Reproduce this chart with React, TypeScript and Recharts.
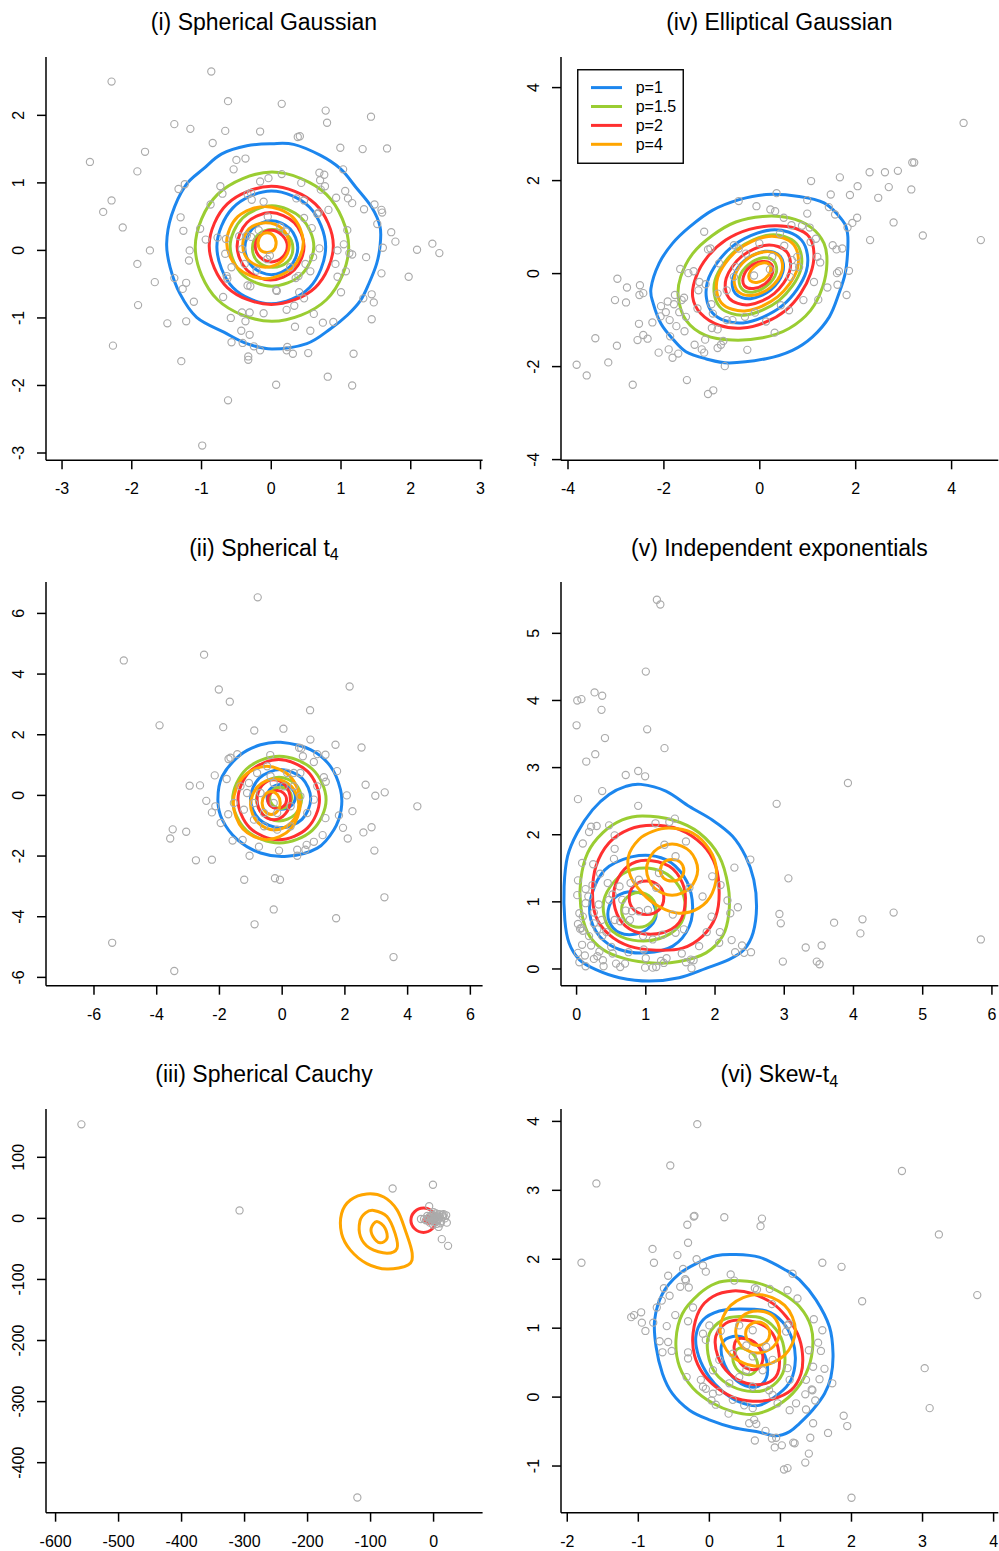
import React from 'react';
import { ComposedChart, Scatter, Line, XAxis, YAxis, Legend } from 'recharts';

type Pt = [number, number];

const FONT = '"Liberation Sans", Arial, Helvetica, sans-serif';
const seriesColors = ['#1C86EE', '#9ACD32', '#FF3030', '#FFA500'];
const seriesLabels = ['p=1', 'p=1.5', 'p=2', 'p=4'];
const pointColor = '#ABABAB';

// ---------- (i) Spherical Gaussian ----------
const gaussPts: Pt[] = [[-0.86,2.65],[-2.29,2.50],[-0.62,2.21],[0.15,2.17],[0.78,2.07],[0.80,1.89],[1.43,1.98],[-1.39,1.87],[-1.16,1.80],[-0.66,1.77],[-0.16,1.76],[0.38,1.68],[0.41,1.69],[-0.84,1.59],[-1.81,1.46],[0.99,1.52],[1.31,1.50],[1.66,1.51],[-2.60,1.31],[-1.92,1.17],[-0.50,1.34],[-0.37,1.36],[-0.54,1.20],[1.03,1.20],[0.69,1.15],[0.76,1.12],[0.15,1.13],[-0.04,1.07],[0.43,1.00],[0.70,1.04],[0.77,0.95],[0.71,0.90],[-0.16,1.02],[-1.33,0.91],[-1.24,0.98],[-2.29,0.74],[-2.41,0.57],[-2.13,0.34],[1.06,0.88],[0.93,0.78],[1.10,0.77],[1.16,0.70],[1.33,0.61],[1.48,0.68],[1.58,0.60],[1.59,0.56],[0.82,0.60],[0.66,0.54],[0.68,0.56],[-0.73,0.95],[-0.70,0.84],[-0.87,0.68],[-0.28,0.75],[-0.11,0.72],[-0.34,0.83],[-0.29,0.85],[0.36,0.77],[0.47,0.74],[-1.30,0.49],[-1.26,0.29],[-1.02,0.32],[-0.94,0.16],[-1.17,0.0],[-1.74,0.0],[-1.92,-0.20],[-1.18,-0.15],[-1.67,-0.47],[-1.39,-0.41],[-1.22,-0.48],[-1.27,-0.57],[-1.91,-0.81],[-1.11,-0.76],[-1.49,-1.08],[-1.22,-1.05],[-2.27,-1.41],[-1.29,-1.64],[1.09,0.30],[1.52,0.39],[1.72,0.27],[1.78,0.13],[1.60,0.04],[2.31,0.10],[2.41,-0.04],[2.09,0.01],[1.36,-0.10],[1.16,-0.06],[1.12,-0.04],[1.04,0.09],[0.95,0.0],[1.58,-0.34],[1.97,-0.39],[0.92,-0.20],[0.95,-0.39],[1.07,-0.31],[1.00,-0.62],[1.44,-0.65],[1.32,-0.71],[1.47,-0.77],[1.44,-1.02],[0.89,-1.06],[0.74,-1.07],[0.61,-0.94],[0.34,-1.13],[0.56,-1.19],[0.22,-0.88],[0.33,-0.82],[0.47,-0.71],[0.40,-0.62],[0.07,-0.59],[0.08,-0.60],[-0.11,-0.93],[-0.42,-0.92],[-0.31,-0.92],[-0.37,-1.05],[-0.43,-1.19],[-0.31,-1.25],[-0.58,-1.00],[-0.69,-0.69],[-0.57,-1.36],[-0.41,-1.37],[-0.25,-1.42],[-0.16,-1.48],[-0.33,-1.57],[-0.33,-1.62],[0.23,-1.43],[0.22,-1.48],[0.31,-1.53],[0.53,-1.52],[0.81,-1.87],[1.18,-1.53],[1.16,-2.00],[0.07,-1.99],[-0.62,-2.22],[-0.99,-2.89],[-0.34,-0.52],[-0.30,-0.53],[-0.64,-0.38],[-0.63,-0.42],[-0.57,-0.25],[-0.66,-0.05],[-0.65,0.17],[-0.77,0.19],[-0.46,0.21],[-0.35,0.22],[0.58,0.33],[0.47,0.48],[0.69,0.03],[0.60,-0.10],[0.49,-0.20],[0.56,-0.31],[0.39,-0.38],[0.35,-0.41],[0.27,-0.25],[-0.02,-0.08],[-0.06,-0.13],[-0.21,-0.30],[-0.38,-0.20],[-0.05,0.50],[0.13,0.35],[0.21,0.28],[-0.18,0.30],[-0.29,0.20],[-0.42,0.02]];

const gaussBlue: Pt[][] = [
  [[0.01,1.58],[0.32,1.57],[0.70,1.41],[0.99,1.21],[1.21,0.94],[1.44,0.64],[1.56,0.35],[1.56,0.07],[1.51,-0.20],[1.40,-0.49],[1.28,-0.74],[1.09,-0.96],[0.85,-1.16],[0.51,-1.38],[0.01,-1.46],[-0.35,-1.38],[-0.68,-1.21],[-1.07,-0.99],[-1.31,-0.64],[-1.45,-0.25],[-1.50,0.10],[-1.43,0.52],[-1.23,0.96],[-0.97,1.21],[-0.71,1.43],[-0.35,1.55]],
  [[0.78,0.05],[0.55,0.64],[0,0.88],[-0.55,0.63],[-0.78,0.05],[-0.55,-0.55],[0,-0.79],[0.55,-0.55]],
  [[0.38,0.04],[0.27,0.32],[0,0.44],[-0.27,0.32],[-0.38,0.04],[-0.27,-0.24],[0,-0.36],[0.27,-0.24]],
];
const gaussGreen: Pt[][] = [
  [[1.11,0.05],[0.79,0.83],[0.01,1.16],[-0.77,0.83],[-1.09,0.05],[-0.77,-0.73],[0.01,-1.05],[0.79,-0.73]],
  [[0.61,0.06],[0.43,0.48],[0.01,0.66],[-0.41,0.48],[-0.59,0.06],[-0.41,-0.36],[0.01,-0.53],[0.43,-0.36]],
  [[0.31,0.03],[0.23,0.23],[0.02,0.31],[-0.19,0.23],[-0.27,0.03],[-0.19,-0.17],[0.02,-0.25],[0.23,-0.17]],
];
const gaussRed: Pt[][] = [
  [[0.89,0.07],[0.63,0.69],[0,0.95],[-0.63,0.69],[-0.89,0.07],[-0.63,-0.55],[0,-0.80],[0.63,-0.55]],
  [[0.47,0.06],[0.33,0.41],[-0.01,0.56],[-0.35,0.41],[-0.49,0.06],[-0.35,-0.29],[-0.01,-0.44],[0.33,-0.29]],
  [[0.23,0.06],[0.16,0.22],[0,0.30],[-0.16,0.22],[-0.23,0.06],[-0.16,-0.10],[0,-0.17],[0.16,-0.10]],
];
const gaussOrange: Pt[][] = [
  [[0.46,0.12],[0.30,0.50],[-0.09,0.65],[-0.48,0.50],[-0.64,0.12],[-0.48,-0.26],[-0.09,-0.42],[0.30,-0.26]],
  [[0.26,0.08],[0.16,0.32],[-0.08,0.41],[-0.32,0.32],[-0.41,0.08],[-0.32,-0.15],[-0.08,-0.25],[0.16,-0.15]],
  [[0.07,0.11],[0.03,0.22],[-0.06,0.26],[-0.15,0.22],[-0.19,0.11],[-0.15,0.0],[-0.06,-0.03],[0.03,0.0]],
];

// ---------- (iv) Elliptical Gaussian ----------
const ellPts: Pt[] = [[4.25,3.24],[3.18,2.39],[3.22,2.39],[2.29,2.18],[2.61,2.18],[2.88,2.21],[1.67,2.07],[1.07,1.99],[2.04,1.88],[2.69,1.86],[3.16,1.81],[1.88,1.69],[1.48,1.70],[2.47,1.63],[0.35,1.73],[0.99,1.58],[-0.44,1.56],[-0.07,1.45],[1.44,1.43],[1.57,1.27],[0.99,1.29],[0.22,1.38],[0.32,1.34],[2.03,1.20],[1.93,1.09],[2.79,1.10],[1.83,0.99],[0.50,1.20],[0.66,1.04],[0.88,1.03],[1.04,0.99],[3.40,0.82],[4.61,0.72],[2.30,0.72],[1.52,0.61],[1.60,0.52],[1.72,0.54],[1.17,0.75],[-1.16,0.90],[-1.08,0.52],[-1.03,0.54],[-0.44,0.54],[1.61,0.01],[1.65,0.05],[1.86,0.06],[1.62,-0.24],[1.41,-0.30],[1.81,-0.46],[1.22,-0.56],[0.91,-0.57],[1.26,0.24],[1.20,0.36],[1.13,-0.18],[-1.66,0.10],[-1.49,0.01],[-1.38,0.05],[-2.97,-0.11],[-2.77,-0.30],[-2.50,-0.25],[-2.51,-0.46],[-2.43,-0.42],[-3.02,-0.57],[-2.79,-0.62],[-1.77,-0.46],[-1.92,-0.60],[-1.79,-0.66],[-1.58,-0.52],[-1.63,-0.57],[-2.06,-0.70],[-1.96,-0.83],[-2.07,-0.92],[-1.68,-0.83],[-2.24,-1.05],[-1.88,-1.00],[-1.74,-1.13],[-2.52,-1.08],[-1.57,-1.24],[-3.43,-1.39],[-2.43,-1.32],[-2.34,-1.40],[-2.55,-1.43],[-1.87,-1.35],[-2.98,-1.55],[-2.11,-1.70],[-1.90,-1.63],[-1.82,-1.81],[-1.70,-1.72],[-1.36,-1.53],[-1.21,-1.63],[-1.16,-1.70],[-1.14,-1.42],[-1.30,-0.75],[-1.28,-0.36],[-1.13,-0.23],[-1.01,-0.66],[-0.98,-0.86],[-1.00,-1.17],[-0.88,-1.20],[-0.88,-1.60],[-0.81,-1.53],[-0.76,-1.45],[-0.69,-1.00],[-0.57,-1.00],[-0.31,-0.93],[-0.26,-1.64],[-0.10,-0.84],[0.13,-1.03],[0.31,-1.27],[0.44,-0.68],[0.61,-0.79],[-0.73,-1.99],[-3.16,-1.91],[-3.82,-1.96],[-3.61,-2.19],[-2.65,-2.39],[-1.52,-2.29],[-1.08,-2.59],[-0.97,-2.51],[-0.54,-0.07],[-0.50,0.14],[-0.85,0.22],[-0.12,-0.04],[0.21,0.09],[0.63,-0.07],[0.67,0.29],[0.82,0.14],[0.26,0.36],[-0.01,0.65],[-0.54,0.61],[-0.29,0.43],[0.51,0.60],[-1.26,-0.18],[-0.69,-0.36],[-0.88,-0.43],[1.06,0.68],[0.42,0.86],[0.78,0.36],[0.70,0.14],[-1.54,-0.93]];

const ellBlue: Pt[][] = [
  [[0.13,1.70],[0.82,1.66],[1.34,1.52],[1.72,1.15],[1.83,0.86],[1.83,0.43],[1.78,0.0],[1.65,-0.43],[1.45,-0.93],[1.10,-1.36],[0.68,-1.65],[0.13,-1.83],[-0.64,-1.92],[-1.13,-1.83],[-1.54,-1.68],[-1.82,-1.40],[-2.06,-1.08],[-2.22,-0.65],[-2.27,-0.32],[-2.10,0.22],[-1.82,0.65],[-1.47,1.00],[-0.99,1.36],[-0.43,1.59]],
  [[0.87,0.72],[0.23,0.94],[-0.59,0.57],[-1.09,-0.17],[-0.99,-0.84],[-0.35,-1.06],[0.47,-0.69],[0.97,0.05]],
  [[0.43,0.37],[0.11,0.48],[-0.31,0.29],[-0.56,-0.09],[-0.51,-0.43],[-0.19,-0.54],[0.23,-0.35],[0.48,0.03]],
];
const ellGreen: Pt[][] = [
  [[0.06,1.23],[0.61,1.20],[1.06,1.00],[1.34,0.65],[1.40,0.22],[1.31,-0.29],[1.06,-0.79],[0.61,-1.18],[0.06,-1.38],[-0.57,-1.43],[-1.13,-1.33],[-1.54,-1.00],[-1.70,-0.50],[-1.65,-0.07],[-1.40,0.43],[-0.99,0.82],[-0.50,1.11]],
  [[0.76,0.65],[0.21,0.83],[-0.49,0.51],[-0.93,-0.13],[-0.84,-0.71],[-0.29,-0.89],[0.41,-0.57],[0.85,0.07]],
  [[0.30,0.26],[0.07,0.34],[-0.23,0.20],[-0.42,-0.07],[-0.38,-0.32],[-0.15,-0.40],[0.15,-0.26],[0.34,0.01]],
];
const ellRed: Pt[][] = [
  [[0.33,1.03],[0.75,0.97],[1.03,0.79],[1.13,0.43],[1.06,0.0],[0.85,-0.43],[0.54,-0.79],[0.13,-1.04],[-0.36,-1.17],[-0.85,-1.11],[-1.23,-0.86],[-1.40,-0.50],[-1.33,-0.07],[-1.09,0.36],[-0.71,0.72],[-0.22,0.95]],
  [[0.56,0.47],[0.14,0.61],[-0.38,0.37],[-0.70,-0.10],[-0.64,-0.53],[-0.22,-0.67],[0.30,-0.43],[0.62,0.04]],
  [[0.24,0.20],[0.05,0.26],[-0.20,0.15],[-0.34,-0.06],[-0.32,-0.26],[-0.13,-0.32],[0.12,-0.21],[0.26,0.00]],
];
const ellOrange: Pt[][] = [
  [[0.70,0.63],[0.18,0.80],[-0.47,0.50],[-0.88,-0.09],[-0.80,-0.63],[-0.28,-0.80],[0.37,-0.50],[0.78,0.09]],
  [[0.41,0.37],[0.11,0.47],[-0.28,0.30],[-0.52,-0.05],[-0.47,-0.37],[-0.17,-0.47],[0.22,-0.30],[0.46,0.05]],
  [[0.20,0.19],[0.06,0.23],[-0.11,0.15],[-0.22,0.0],[-0.20,-0.15],[-0.06,-0.19],[0.11,-0.11],[0.22,0.04]],
];

// ---------- (ii) Spherical t4 ----------
const tPts: Pt[] = [[-0.78,6.53],[-5.05,4.45],[-2.49,4.64],[-2.02,3.49],[-1.67,3.09],[2.15,3.59],[0.89,2.81],[-3.91,2.31],[-1.88,2.25],[-0.89,2.14],[0.04,2.20],[0.90,1.84],[1.70,1.67],[2.53,1.58],[0.54,1.57],[0.61,1.55],[-1.43,1.36],[-1.71,1.20],[-1.65,1.24],[-0.38,1.33],[1.12,1.36],[1.38,1.34],[0.66,1.29],[1.01,1.10],[-2.15,0.66],[-1.77,0.54],[-2.95,0.32],[-2.62,0.33],[1.75,0.80],[1.33,0.60],[1.39,0.45],[2.66,0.35],[3.27,0.10],[2.97,-0.01],[2.06,0.0],[4.31,-0.36],[2.24,-0.52],[1.81,-0.66],[1.38,-0.75],[-2.42,-0.18],[-2.24,-0.56],[-2.13,-0.36],[-1.72,-0.62],[-1.96,-0.91],[-3.49,-1.12],[-3.06,-1.20],[-3.57,-1.42],[1.94,-1.07],[2.59,-1.22],[2.85,-1.05],[2.09,-1.42],[1.29,-1.31],[0.78,-1.63],[0.74,-1.79],[1.01,-1.53],[-1.58,-1.49],[-1.26,-1.47],[-0.74,-1.69],[-0.10,-1.82],[0.48,-1.79],[0.48,-1.99],[-1.04,-1.99],[2.94,-1.82],[-2.75,-2.14],[-2.24,-2.12],[-1.21,-2.78],[-0.23,-2.73],[-0.07,-2.78],[-0.27,-3.76],[-0.88,-4.25],[1.72,-4.05],[3.26,-3.36],[-5.42,-4.86],[-3.44,-5.79],[3.55,-5.33],[-1.06,0.41],[-0.80,0.74],[-0.48,0.96],[-0.27,0.41],[0.16,0.74],[0.37,0.30],[0.58,-0.03],[0.27,-0.36],[-0.16,-0.58],[-0.58,-0.58],[-0.90,-0.25],[-1.12,0.08],[-1.33,0.30],[-1.54,-0.25],[-0.58,-1.02],[-0.16,-1.13],[0.27,-1.02],[0.80,-0.58],[1.01,-0.14],[1.12,0.30],[-0.90,-0.80],[-0.27,-0.25],[0.37,0.74],[-0.69,0.08],[0.05,0.30],[-0.37,0.63],[0.58,0.74],[-1.22,-0.47]];

const tBlue: Pt[][] = [
  [[-0.05,1.75],[0.90,1.51],[1.54,0.96],[1.86,0.19],[1.88,-0.47],[1.65,-1.13],[1.12,-1.74],[0.16,-2.01],[-0.69,-1.90],[-1.43,-1.46],[-1.91,-0.80],[-2.05,-0.14],[-1.91,0.63],[-1.33,1.34],[-0.69,1.67]],
  [[0.91,-0.11],[0.63,0.57],[-0.05,0.85],[-0.73,0.57],[-1.01,-0.11],[-0.73,-0.79],[-0.05,-1.07],[0.63,-0.79]],
  [[0.42,-0.05],[0.29,0.24],[-0.03,0.36],[-0.35,0.24],[-0.48,-0.05],[-0.35,-0.34],[-0.03,-0.46],[0.29,-0.34]],
];
const tGreen: Pt[][] = [
  [[1.40,-0.14],[0.96,0.87],[-0.09,1.29],[-1.14,0.87],[-1.58,-0.14],[-1.14,-1.15],[-0.09,-1.57],[0.96,-1.15]],
  [[0.62,-0.12],[0.41,0.39],[-0.10,0.60],[-0.61,0.39],[-0.82,-0.12],[-0.61,-0.63],[-0.10,-0.84],[0.41,-0.63]],
  [[0.30,-0.08],[0.20,0.17],[-0.05,0.27],[-0.30,0.17],[-0.40,-0.08],[-0.30,-0.33],[-0.05,-0.43],[0.20,-0.33]],
];
const tRed: Pt[][] = [
  [[1.19,-0.14],[0.81,0.79],[-0.11,1.18],[-1.03,0.79],[-1.41,-0.14],[-1.03,-1.07],[-0.11,-1.46],[0.81,-1.07]],
  [[0.26,-0.14],[0.10,0.33],[-0.27,0.52],[-0.64,0.33],[-0.80,-0.14],[-0.64,-0.61],[-0.27,-0.80],[0.10,-0.61]],
  [[0.14,-0.14],[0.05,0.07],[-0.16,0.16],[-0.37,0.07],[-0.46,-0.14],[-0.37,-0.35],[-0.16,-0.44],[0.05,-0.35]],
];
const tOrange: Pt[][] = [
  [[0.58,-0.25],[0.27,0.61],[-0.49,0.96],[-1.25,0.61],[-1.56,-0.25],[-1.25,-1.11],[-0.49,-1.46],[0.27,-1.11]],
  [[0.53,-0.30],[0.30,0.29],[-0.24,0.54],[-0.78,0.29],[-1.01,-0.30],[-0.78,-0.89],[-0.24,-1.14],[0.30,-0.89]],
  [[-0.06,-0.25],[-0.15,0.02],[-0.35,0.13],[-0.55,0.02],[-0.64,-0.25],[-0.55,-0.52],[-0.35,-0.63],[-0.15,-0.52]],
];

// ---------- (v) Independent exponentials ----------
const expPts: Pt[] = [[1.16,5.50],[1.21,5.43],[1.00,4.43],[0.26,4.12],[0.37,4.07],[0.01,4.00],[0.07,4.02],[0.36,3.86],[0.0,3.63],[1.02,3.57],[0.41,3.44],[1.27,3.29],[0.27,3.20],[0.14,3.09],[0.71,2.89],[0.89,2.95],[0.99,2.87],[3.92,2.77],[0.02,2.53],[0.37,2.65],[0.89,2.43],[2.89,2.46],[1.42,2.24],[1.34,2.19],[1.14,2.17],[0.21,2.12],[0.29,2.13],[0.18,2.04],[0.47,2.14],[0.09,1.87],[0.55,1.99],[1.27,1.85],[0.55,1.79],[0.54,1.64],[2.51,1.63],[2.28,1.51],[0.08,1.58],[0.24,1.56],[0.34,1.42],[0.45,1.28],[0.02,1.32],[3.06,1.35],[0.13,1.19],[0.23,1.25],[0.01,1.10],[0.17,1.08],[2.08,1.25],[2.18,1.02],[2.33,0.92],[2.22,0.83],[1.95,0.78],[2.93,0.82],[2.95,0.68],[4.58,0.84],[4.13,0.74],[3.72,0.69],[4.10,0.53],[0.04,0.83],[0.13,0.98],[0.02,0.67],[0.07,0.61],[0.05,0.60],[0.09,0.57],[0.36,0.73],[0.43,0.55],[0.37,0.49],[0.21,0.35],[0.08,0.36],[0.33,0.26],[0.12,0.20],[0.25,0.15],[0.02,0.24],[0.04,0.10],[0.13,0.04],[0.38,0.13],[0.39,0.04],[0.57,0.08],[0.70,0.08],[0.63,0.03],[0.50,0.33],[0.52,0.23],[0.75,0.25],[0.99,0.02],[1.10,0.02],[1.15,0.03],[1.26,0.09],[1.22,0.12],[1.30,0.16],[1.00,0.16],[1.52,0.23],[1.58,0.10],[1.65,0.14],[1.69,0.13],[1.66,0.01],[2.06,0.39],[2.24,0.43],[2.29,0.25],[2.42,0.24],[2.52,0.25],[2.39,0.35],[1.88,0.55],[2.07,0.55],[2.98,0.11],[3.31,0.32],[3.54,0.35],[3.47,0.11],[3.51,0.07],[5.84,0.44],[0.97,0.29],[0.96,0.49],[1.10,0.44],[1.24,0.51],[1.43,0.54],[1.55,0.59],[1.96,1.38],[1.39,0.81],[0.90,0.86],[1.03,0.88],[0.80,0.86],[0.71,0.87],[0.77,0.73],[0.55,0.73],[0.63,0.71],[0.62,1.23],[0.52,1.11],[0.66,1.03],[0.78,1.28],[0.90,1.33],[1.15,1.21],[1.19,1.43],[1.43,1.68],[1.58,1.90],[1.63,1.21],[1.82,1.08],[1.77,0.34],[0.30,0.19],[0.18,0.49],[0.25,0.68],[0.30,0.59],[0.09,0.78],[0.32,0.96],[0.25,0.84],[0.47,1.03]];

const expBlue: Pt[][] = [
  [[0.93,2.75],[1.29,2.65],[1.63,2.42],[1.96,2.22],[2.25,1.98],[2.44,1.68],[2.56,1.33],[2.60,0.93],[2.55,0.54],[2.42,0.29],[2.20,0.14],[1.87,0.01],[1.48,-0.13],[1.05,-0.18],[0.62,-0.13],[0.28,-0.01],[0.04,0.14],[-0.11,0.39],[-0.17,0.73],[-0.18,1.23],[-0.13,1.68],[0.01,2.03],[0.23,2.37],[0.47,2.60],[0.71,2.72]],
  [[0.90,1.69],[1.29,1.63],[1.55,1.38],[1.67,1.03],[1.63,0.64],[1.39,0.34],[1.00,0.24],[0.62,0.29],[0.33,0.49],[0.19,0.83],[0.26,1.23],[0.47,1.53]],
  [[0.81,1.15],[1.05,1.06],[1.15,0.83],[1.07,0.64],[0.86,0.52],[0.62,0.54],[0.47,0.71],[0.47,0.93],[0.59,1.09]],
];
const expGreen: Pt[][] = [
  [[0.95,2.28],[1.39,2.22],[1.77,2.03],[2.06,1.68],[2.19,1.23],[2.20,0.83],[2.11,0.49],[1.87,0.24],[1.48,0.11],[1.10,0.09],[0.71,0.15],[0.38,0.29],[0.16,0.54],[0.06,0.93],[0.06,1.33],[0.16,1.73],[0.38,2.03],[0.66,2.22]],
  [[0.90,1.50],[1.24,1.45],[1.48,1.23],[1.57,0.93],[1.48,0.64],[1.19,0.45],[0.81,0.43],[0.52,0.56],[0.40,0.78],[0.41,1.08],[0.62,1.38]],
  [[1.15,0.88],[1.08,1.06],[0.90,1.14],[0.72,1.06],[0.65,0.88],[0.72,0.70],[0.90,0.62],[1.08,0.70]],
];
const expRed: Pt[][] = [
  [[1.10,2.14],[1.48,2.08],[1.82,1.85],[2.01,1.53],[2.06,1.13],[2.01,0.78],[1.82,0.49],[1.53,0.31],[1.15,0.28],[0.76,0.34],[0.47,0.51],[0.28,0.78],[0.23,1.13],[0.28,1.53],[0.47,1.88],[0.76,2.08]],
  [[1.00,1.62],[1.34,1.53],[1.53,1.28],[1.57,0.98],[1.48,0.69],[1.24,0.54],[0.90,0.54],[0.66,0.69],[0.54,0.98],[0.57,1.28],[0.74,1.53]],
  [[1.26,1.06],[1.19,1.24],[1.01,1.31],[0.83,1.24],[0.76,1.06],[0.83,0.88],[1.01,0.81],[1.19,0.88]],
];
const expOrange: Pt[][] = [
  [[1.34,2.10],[1.67,2.03],[1.92,1.78],[2.02,1.48],[1.96,1.13],[1.77,0.91],[1.48,0.83],[1.19,0.93],[0.95,1.13],[0.78,1.38],[0.75,1.68],[0.90,1.93],[1.10,2.05]],
  [[1.75,1.48],[1.64,1.75],[1.38,1.86],[1.12,1.75],[1.01,1.48],[1.12,1.21],[1.38,1.10],[1.64,1.21]],
  [[1.55,1.47],[1.50,1.59],[1.38,1.63],[1.26,1.59],[1.21,1.47],[1.26,1.35],[1.38,1.31],[1.50,1.35]],
];

// ---------- (iii) Spherical Cauchy ----------
const cauchyPts: Pt[] = [[-559,154],[-308,13],[-65,49],[-1,55],[-121,-457],[-7,20],[21,-7],[13,-34],[23,-45],[16,7],[8,-14],[-20,-1],[-5,3],[2,-2],[6,5],[-3,-4],[10,2],[4,8],[-8,0],[12,-5],[1,1],[3,-6],[-2,6],[8,-1],[15,3],[-6,-7],[0,10],[5,-9],[-10,4],[9,7],[-4,-1],[7,3],[11,-8],[-1,-10],[14,6],[2,4],[-7,2],[18,0],[-12,-3],[6,-3],[3,2],[0,-3],[20,5],[-15,-1]];

const cauchyBlue: Pt[][] = [
  [[-1,-2],[-2,-0.6],[-3,0],[-4,-0.6],[-5,-2],[-4,-3.4],[-3,-4],[-2,-3.4]],
];
const cauchyGreen: Pt[][] = [
  [[-2,-2],[-3,0.2],[-5,1],[-7,0.2],[-8,-2],[-7,-4.2],[-5,-5],[-3,-4.2]],
];
const cauchyRed: Pt[][] = [
  [[4,-3],[-2,11],[-16,17],[-30,11],[-36,-3],[-30,-17],[-16,-23],[-2,-17]],
  [[-2,-2],[-4,2],[-8,4],[-12,2],[-14,-2],[-12,-6],[-8,-8],[-4,-6]],
];
const cauchyOrange: Pt[][] = [
  [[-106,40],[-79,35],[-58,14],[-45,-19],[-34,-57],[-40,-76],[-74,-83],[-106,-74],[-132,-52],[-146,-25],[-146,8],[-132,30]],
  [[-95,13],[-74,3],[-61,-25],[-58,-49],[-74,-57],[-101,-49],[-116,-30],[-117,-5],[-108,9]],
  [[-90,-5],[-77,-16],[-74,-33],[-85,-40],[-96,-30],[-99,-16]],
];

// ---------- (vi) Skew-t4 ----------
const skewPts: Pt[] = [[-0.17,3.96],[-0.55,3.36],[-1.59,3.10],[2.71,3.28],[3.23,2.36],[3.77,1.48],[-1.80,1.95],[2.15,1.39],[3.03,0.42],[3.10,-0.16],[2.00,-1.46],[-0.21,2.63],[-0.22,2.62],[0.21,2.61],[0.74,2.59],[0.72,2.48],[-0.31,2.50],[-0.30,2.24],[-0.80,2.15],[-0.78,1.95],[-0.45,2.06],[-0.18,2.00],[-0.09,1.91],[-0.05,1.82],[-0.37,1.86],[-0.58,1.76],[-0.34,1.71],[-0.33,1.69],[-0.41,1.60],[-0.29,1.59],[-0.64,1.58],[-0.56,1.47],[-0.67,1.40],[-0.74,1.30],[-0.23,1.30],[-0.48,1.19],[-0.60,1.03],[-0.30,1.10],[-0.96,1.23],[-1.10,1.16],[-1.06,1.19],[-0.95,1.08],[-0.90,0.96],[-0.79,1.08],[-0.70,0.81],[-0.58,0.80],[-0.66,0.65],[-0.53,0.67],[-0.32,0.29],[-0.30,0.65],[-0.30,0.56],[0.30,1.78],[0.35,1.69],[0.64,1.58],[0.67,1.56],[0.85,1.57],[1.10,1.55],[1.24,1.43],[1.17,1.79],[0.88,1.35],[1.59,1.95],[1.86,1.89],[1.47,1.13],[1.10,1.04],[1.12,1.06],[1.59,0.97],[1.53,0.79],[1.57,0.67],[1.62,0.41],[1.55,0.26],[1.73,0.20],[1.44,0.11],[1.45,0.10],[1.49,-0.05],[1.36,-0.18],[1.46,-0.38],[1.89,-0.27],[1.94,-0.42],[1.67,-0.52],[1.42,-0.59],[1.18,-0.66],[1.20,-0.67],[1.02,-0.70],[0.92,-0.73],[0.88,-0.60],[0.94,-0.59],[1.40,-0.82],[1.35,-0.95],[1.05,-1.05],[1.10,-1.03],[0.64,-0.63],[0.79,-0.49],[0.63,-0.33],[0.66,-0.39],[0.56,-0.38],[0.27,-0.24],[0.03,-0.05],[0.09,-0.11],[-0.09,0.15],[-0.12,0.25],[-0.05,0.12],[0.05,0.05],[1.13,-0.19],[1.22,-0.09],[0.96,-0.09],[0.89,0.03],[0.61,-0.16],[0.49,-0.12],[0.33,-0.04],[0.14,0.08],[1.36,0.25],[1.35,0.04],[1.46,0.44],[1.40,0.68],[1.08,0.95],[1.10,0.42],[1.13,0.25],[0.84,0.10],[-0.05,0.83],[-0.09,0.92],[0.0,1.04],[0.16,0.96],[0.42,1.04],[0.61,0.97],[0.52,0.75],[0.33,0.63],[0.14,0.54],[0.61,0.59],[0.80,0.73],[0.75,0.39],[0.42,0.29],[0.28,0.20],[0.05,0.39],[0.61,0.15],[0.89,0.54],[0.52,0.39]];

const skewBlue: Pt[][] = [
  [[0.33,2.07],[0.70,2.03],[1.08,1.84],[1.27,1.70],[1.50,1.41],[1.69,1.02],[1.74,0.63],[1.71,0.29],[1.62,0.05],[1.45,-0.19],[1.27,-0.38],[1.13,-0.50],[0.94,-0.56],[0.66,-0.50],[0.33,-0.44],[0.0,-0.33],[-0.28,-0.19],[-0.52,0.05],[-0.66,0.34],[-0.75,0.73],[-0.77,1.12],[-0.66,1.50],[-0.42,1.79],[-0.14,1.96],[0.09,2.05]],
  [[0.42,1.28],[0.80,1.25],[1.03,1.09],[1.17,0.83],[1.21,0.54],[1.15,0.25],[0.98,0.05],[0.70,-0.12],[0.42,-0.07],[0.19,0.08],[0.0,0.29],[-0.15,0.59],[-0.19,0.88],[-0.09,1.12],[0.14,1.25]],
  [[0.33,0.88],[0.52,0.85],[0.75,0.66],[0.82,0.39],[0.75,0.20],[0.56,0.15],[0.33,0.29],[0.19,0.54],[0.18,0.78]],
];
const skewGreen: Pt[][] = [
  [[0.33,1.69],[0.70,1.65],[1.03,1.50],[1.27,1.31],[1.43,1.02],[1.45,0.68],[1.36,0.34],[1.17,0.05],[0.89,-0.16],[0.61,-0.25],[0.33,-0.21],[0.05,-0.09],[-0.23,0.13],[-0.42,0.44],[-0.47,0.83],[-0.38,1.21],[-0.14,1.50],[0.09,1.65]],
  [[0.42,1.17],[0.75,1.14],[0.98,0.92],[1.06,0.63],[1.03,0.34],[0.84,0.13],[0.61,0.08],[0.33,0.15],[0.09,0.34],[-0.02,0.63],[0.0,0.92],[0.19,1.12]],
  [[0.42,0.71],[0.61,0.63],[0.68,0.46],[0.59,0.33],[0.41,0.38],[0.33,0.56]],
];
const skewRed: Pt[][] = [
  [[0.33,1.54],[0.61,1.50],[0.89,1.36],[1.08,1.17],[1.24,0.92],[1.31,0.63],[1.29,0.34],[1.15,0.10],[0.89,-0.03],[0.61,-0.06],[0.33,0.0],[0.09,0.15],[-0.09,0.34],[-0.21,0.61],[-0.23,0.92],[-0.14,1.26],[0.05,1.46]],
  [[0.42,1.12],[0.70,1.07],[0.89,0.92],[0.98,0.63],[0.96,0.34],[0.80,0.20],[0.52,0.20],[0.28,0.34],[0.12,0.59],[0.09,0.88],[0.23,1.07]],
  [[0.42,0.85],[0.63,0.80],[0.75,0.61],[0.70,0.42],[0.52,0.42],[0.38,0.59],[0.35,0.75]],
];
const skewOrange: Pt[][] = [
  [[1.21,0.97],[1.06,1.33],[0.68,1.49],[0.30,1.33],[0.15,0.97],[0.30,0.61],[0.68,0.45],[1.06,0.61]],
  [[0.99,0.95],[0.90,1.17],[0.68,1.25],[0.46,1.17],[0.37,0.95],[0.46,0.73],[0.68,0.64],[0.90,0.73]],
  [[0.85,0.92],[0.80,1.04],[0.68,1.09],[0.56,1.04],[0.51,0.92],[0.56,0.80],[0.68,0.75],[0.80,0.80]],
];

// ---------- axis ticks ----------
const gaussXTicks = [-3, -2, -1, 0, 1, 2, 3];
const gaussYTicks = [-3, -2, -1, 0, 1, 2];
const ellXTicks = [-4, -2, 0, 2, 4];
const ellYTicks = [-4, -2, 0, 2, 4];
const tXTicks = [-6, -4, -2, 0, 2, 4, 6];
const tYTicks = [-6, -4, -2, 0, 2, 4, 6];
const expXTicks = [0, 1, 2, 3, 4, 5, 6];
const expYTicks = [0, 1, 2, 3, 4, 5];
const cauchyXTicks = [-600, -500, -400, -300, -200, -100, 0];
const cauchyYTicks = [-400, -300, -200, -100, 0, 100];
const skewXTicks = [-2, -1, 0, 1, 2, 3, 4];
const skewYTicks = [-1, 0, 1, 2, 3, 4];

// closed Catmull-Rom curve (passes through every read contour point)
const closedSmooth: any = (context: any) => {
  let pts: number[][] = [];
  return {
    areaStart() {},
    areaEnd() {},
    lineStart() { pts = []; },
    point(x: number, y: number) { pts.push([+x, +y]); },
    lineEnd() {
      const n = pts.length;
      if (!n) return;
      context.moveTo(pts[0][0], pts[0][1]);
      for (let i = 0; i < n; i++) {
        const p0 = pts[(i - 1 + n) % n];
        const p1 = pts[i];
        const p2 = pts[(i + 1) % n];
        const p3 = pts[(i + 2) % n];
        context.bezierCurveTo(
          p1[0] + (p2[0] - p0[0]) / 6, p1[1] + (p2[1] - p0[1]) / 6,
          p2[0] - (p3[0] - p1[0]) / 6, p2[1] - (p3[1] - p1[1]) / 6,
          p2[0], p2[1]
        );
      }
      context.closePath();
    },
  };
};

const toRows = (pts: Pt[]) => pts.map(([x, y]) => ({ x, y }));

const XTick = (props: any) => (
  <text x={props.x} y={props.y + 23} textAnchor="middle" fontSize={16} fill="#000" fontFamily={FONT}>
    {props.payload.value}
  </text>
);
const YTick = (props: any) => (
  <text transform={`translate(${props.x - 11},${props.y}) rotate(-90)`} textAnchor="middle" fontSize={16} fill="#000" fontFamily={FONT}>
    {props.payload.value}
  </text>
);

const renderPoint = (props: any) => (
  <circle cx={props.cx} cy={props.cy} r={3.6} fill="none" stroke={pointColor} strokeWidth={1.15} />
);

const LegendBox = () => (
  <svg width={108} height={96} style={{ display: 'block' }}>
    <rect x={0.75} y={0.75} width={105.5} height={93.5} fill="#fff" stroke="#000" strokeWidth={1.4} />
    {seriesLabels.map((lab, i) => {
      const y = 18.6 + i * 18.9;
      return (
        <g key={lab}>
          <line x1={14} x2={45} y1={y} y2={y} stroke={seriesColors[i]} strokeWidth={3} />
          <text x={58.7} y={y + 5.6} fontSize={16} fontFamily={FONT} fill="#000">{lab}</text>
        </g>
      );
    })}
  </svg>
);

type Box = { left: number; top: number; w: number; h: number };

function Panel(props: {
  title: React.ReactNode; box: Box; xDomain: number[]; yDomain: number[];
  xTicks: number[]; yTicks: number[]; points: Pt[]; contours: Pt[][][]; legend?: boolean;
}) {
  const { title, box, xDomain, yDomain, xTicks, yTicks, points, contours, legend } = props;
  const W = box.w + 55;
  const H = box.h + 50;
  const axisStroke = { stroke: '#000', strokeWidth: 1.5 };
  return (
    <>
      <div style={{ position: 'absolute', left: box.left, top: box.top - 27 - 20.8, width: box.w, textAlign: 'center', fontSize: 23, lineHeight: '26px', fontFamily: FONT, color: '#000', whiteSpace: 'nowrap' }}>
        {title}
      </div>
      <div style={{ position: 'absolute', left: box.left - 50, top: box.top - 5 }}>
        <ComposedChart width={W} height={H} margin={{ top: 5, right: 5, bottom: 0, left: 0 }}>
          <XAxis dataKey="x" type="number" domain={xDomain} ticks={xTicks} allowDataOverflow interval={0} height={45}
            tickSize={9} tickMargin={2} tick={XTick} axisLine={axisStroke} tickLine={axisStroke} />
          <XAxis xAxisId="top" orientation="top" dataKey="x" type="number" domain={xDomain} allowDataOverflow height={0}
            tick={false} tickLine={false} axisLine={axisStroke} />
          <YAxis dataKey="y" type="number" domain={yDomain} ticks={yTicks} allowDataOverflow interval={0} width={50}
            tickSize={9} tickMargin={2} tick={YTick} axisLine={axisStroke} tickLine={axisStroke} />
          <YAxis yAxisId="right" orientation="right" dataKey="y" type="number" domain={yDomain} allowDataOverflow width={0}
            tick={false} tickLine={false} axisLine={axisStroke} />
          <Scatter data={toRows(points)} shape={renderPoint} isAnimationActive={false} legendType="none" />
          {contours.map((levels, si) =>
            levels.map((pts, li) => (
              <Line key={`c-${si}-${li}`} data={toRows(pts)} dataKey="y" type={closedSmooth}
                stroke={seriesColors[si]} strokeWidth={3} dot={false} activeDot={false}
                isAnimationActive={false} legendType="none" strokeLinejoin="round" />
            ))
          )}
          {legend && (
            <Legend verticalAlign="middle" align="center" layout="horizontal"
              wrapperStyle={{ position: 'absolute', left: 66.3, top: 17, width: 108, height: 96 }}
              content={() => <LegendBox />} />
          )}
        </ComposedChart>
      </div>
    </>
  );
}

const sub4 = <span style={{ fontSize: '0.7em', position: 'relative', top: '0.3em' }}>4</span>;

export default function App() {
  return (
    <div style={{ position: 'absolute', left: 0, top: 0, width: 999, height: 1551, background: '#fff', overflow: 'hidden' }}>
      <Panel title="(i) Spherical Gaussian" box={{ left: 45.7, top: 56.7, w: 436.6, h: 403.3 }}
        xDomain={[-3.23, 3.03]} yDomain={[-3.108, 2.864]} xTicks={gaussXTicks} yTicks={gaussYTicks}
        points={gaussPts} contours={[gaussBlue, gaussGreen, gaussRed, gaussOrange]} />
      <Panel title="(iv) Elliptical Gaussian" box={{ left: 560.7, top: 56.7, w: 437.3, h: 403.3 }}
        xDomain={[-4.146, 4.974]} yDomain={[-4.015, 4.658]} xTicks={ellXTicks} yTicks={ellYTicks}
        points={ellPts} contours={[ellBlue, ellGreen, ellRed, ellOrange]} legend />
      <Panel title={<>(ii) Spherical t{sub4}</>} box={{ left: 45.7, top: 582.3, w: 436.6, h: 403.7 }}
        xDomain={[-7.53, 6.39]} yDomain={[-6.274, 7.036]} xTicks={tXTicks} yTicks={tYTicks}
        points={tPts} contours={[tBlue, tGreen, tRed, tOrange]} />
      <Panel title="(v) Independent exponentials" box={{ left: 560.7, top: 582.3, w: 437.3, h: 403.7 }}
        xDomain={[-0.225, 6.092]} yDomain={[-0.249, 5.765]} xTicks={expXTicks} yTicks={expYTicks}
        points={expPts} contours={[expBlue, expGreen, expRed, expOrange]} />
      <Panel title="(iii) Spherical Cauchy" box={{ left: 45.7, top: 1109, w: 436.6, h: 403.7 }}
        xDomain={[-615.2, 77.8]} yDomain={[-481.9, 179.1]} xTicks={cauchyXTicks} yTicks={cauchyYTicks}
        points={cauchyPts} contours={[cauchyBlue, cauchyGreen, cauchyRed, cauchyOrange]} />
      <Panel title={<>(vi) Skew-t{sub4}</>} box={{ left: 560.7, top: 1109, w: 437.3, h: 403.7 }}
        xDomain={[-2.088, 4.066]} yDomain={[-1.677, 4.180]} xTicks={skewXTicks} yTicks={skewYTicks}
        points={skewPts} contours={[skewBlue, skewGreen, skewRed, skewOrange]} />
    </div>
  );
}
